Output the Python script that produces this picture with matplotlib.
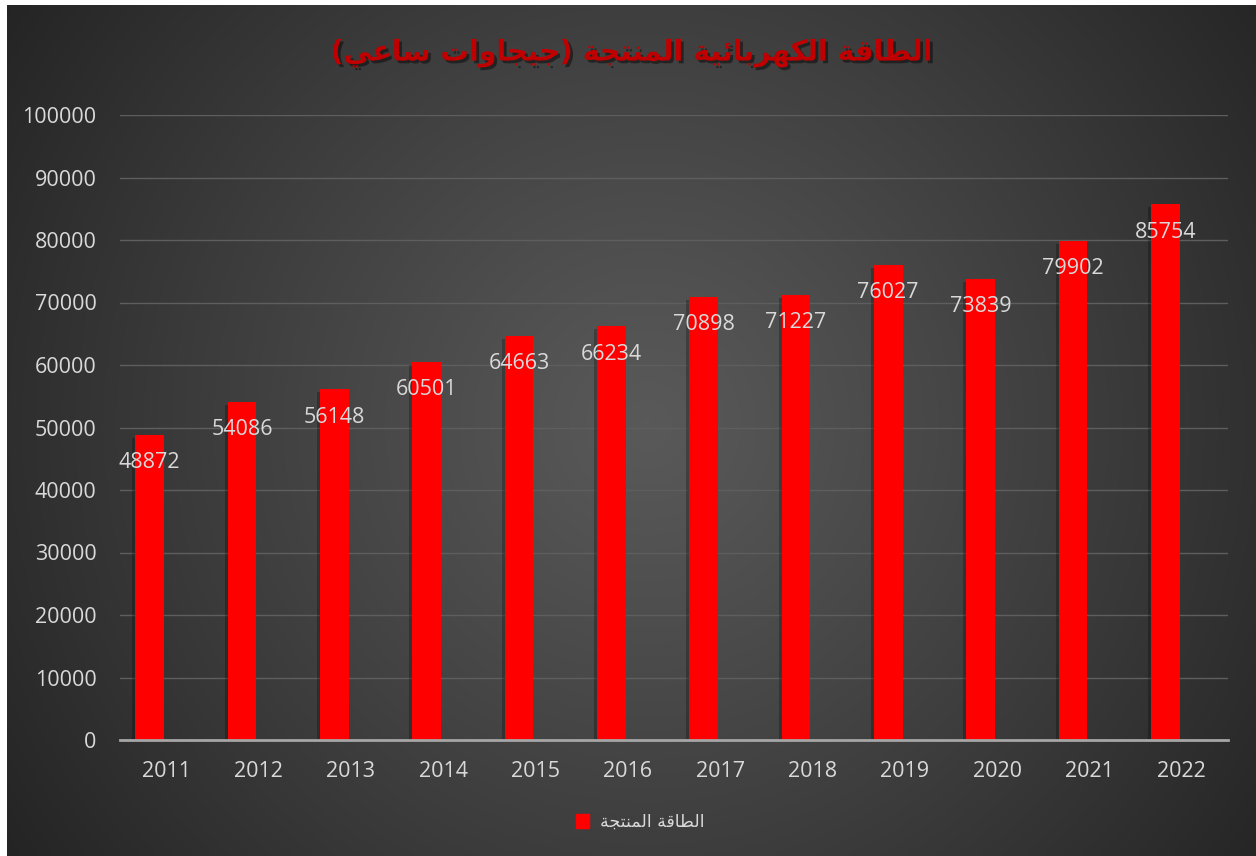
#!/usr/bin/env python3
"""
Electricity produced per year (GWh), red columns on a dark radial background
"""

import numpy as np
import matplotlib
matplotlib.use('Agg')
import matplotlib.pyplot as plt
import matplotlib.patches as mpatches
import matplotlib.patheffects as pe
import matplotlib.transforms as mtransforms

years = ['2011', '2012', '2013', '2014', '2015', '2016',
         '2017', '2018', '2019', '2020', '2021', '2022']
energy = [48872, 54086, 56148, 60501, 64663, 66234,
          70898, 71227, 76027, 73839, 79902, 85754]
y_ticks = [0, 10000, 20000, 30000, 40000, 50000,
           60000, 70000, 80000, 90000, 100000]

title_text = 'الطاقة الكهربائية المنتجة (جيجاوات ساعي)'
series_name = 'الطاقة المنتجة'

# contextual forms: (isolated, final, initial, medial); None -> joins on the right only
ARABIC_FORMS = {
    'ا': ('\uFE8D', '\uFE8E', None, None),
    'ب': ('\uFE8F', '\uFE90', '\uFE91', '\uFE92'),
    'ة': ('\uFE93', '\uFE94', None, None),
    'ت': ('\uFE95', '\uFE96', '\uFE97', '\uFE98'),
    'ج': ('\uFE9D', '\uFE9E', '\uFE9F', '\uFEA0'),
    'ر': ('\uFEAD', '\uFEAE', None, None),
    'س': ('\uFEB1', '\uFEB2', '\uFEB3', '\uFEB4'),
    'ط': ('\uFEC1', '\uFEC2', '\uFEC3', '\uFEC4'),
    'ع': ('\uFEC9', '\uFECA', '\uFECB', '\uFECC'),
    'ق': ('\uFED5', '\uFED6', '\uFED7', '\uFED8'),
    'ك': ('\uFED9', '\uFEDA', '\uFEDB', '\uFEDC'),
    'ل': ('\uFEDD', '\uFEDE', '\uFEDF', '\uFEE0'),
    'م': ('\uFEE1', '\uFEE2', '\uFEE3', '\uFEE4'),
    'ن': ('\uFEE5', '\uFEE6', '\uFEE7', '\uFEE8'),
    'ه': ('\uFEE9', '\uFEEA', '\uFEEB', '\uFEEC'),
    'و': ('\uFEED', '\uFEEE', None, None),
    'ي': ('\uFEF1', '\uFEF2', '\uFEF3', '\uFEF4'),
    'ئ': ('\uFE89', '\uFE8A', '\uFE8B', '\uFE8C'),
}
MIRROR = {'(': ')', ')': '('}


def shape_arabic(text):
    """Pick joined letter forms and return the string in visual order"""
    shaped = []
    n = len(text)
    for i, ch in enumerate(text):
        forms = ARABIC_FORMS.get(ch)
        if forms is None:
            shaped.append(MIRROR.get(ch, ch))
            continue
        prev = text[i - 1] if i > 0 else None
        nxt = text[i + 1] if i < n - 1 else None
        join_prev = prev in ARABIC_FORMS and ARABIC_FORMS[prev][2] is not None
        join_next = forms[2] is not None and nxt in ARABIC_FORMS
        if join_prev and join_next:
            shaped.append(forms[3])
        elif join_prev:
            shaped.append(forms[1])
        elif join_next:
            shaped.append(forms[2])
        else:
            shaped.append(forms[0])
    return ''.join(reversed(shaped))


W, H, DPI = 1256, 856, 100
fig = plt.figure(figsize=(W / DPI, H / DPI), dpi=DPI, facecolor='white')

# dark radial gradient panel
bg_ax = fig.add_axes([7 / W, 0, 1 - 7 / W, 1 - 5 / H])
bg_ax.set_axis_off()
gx, gy = np.meshgrid(np.linspace(0, 1249, 400), np.linspace(0, 851, 300))
r = np.hypot(gx - 640, gy - 420) / 760.0
shade = 0.35 - (0.35 - 0.145) * np.clip(r, 0, 1) ** 1.1
bg_ax.imshow(np.dstack([shade] * 3), aspect='auto', extent=[0, 1, 0, 1],
             interpolation='bicubic')

ax = fig.add_axes([120 / W, 1 - 740 / H, 1108 / W, 625 / H])
ax.set_facecolor('none')

x = np.arange(len(years))
offset = -0.18
bar_w = 0.31

# soft drop shadow behind the columns
shadow_tf = mtransforms.offset_copy(ax.transData, fig=fig, x=-3, y=-3, units='dots')
ax.bar(x + offset, energy, width=bar_w, color='black', alpha=0.25,
       transform=shadow_tf, zorder=2)
ax.bar(x + offset, energy, width=bar_w, color='#ff0000', zorder=3)

for xi, val in zip(x, energy):
    ax.annotate(str(val), xy=(xi + offset, val), xytext=(0, -28),
                textcoords='offset pixels', ha='center', va='center',
                fontsize=15.5, color='#d9d9d9', family=['Open Sans', 'DejaVu Sans'],
                zorder=4)

ax.set_xlim(-0.5, len(years) - 0.5)
ax.set_ylim(0, 100000)
ax.set_xticks(x)
ax.set_xticklabels(years)
ax.set_yticks(y_ticks)
ax.set_yticklabels([str(t) for t in y_ticks])
for lbl in ax.get_xticklabels() + ax.get_yticklabels():
    lbl.set_family(['Open Sans', 'DejaVu Sans'])
    lbl.set_fontsize(15.5)
    lbl.set_color('#d9d9d9')
ax.tick_params(axis='both', length=0)
ax.tick_params(axis='x', pad=15)
ax.tick_params(axis='y', pad=17)

ax.grid(axis='y', color='#5e5e5e', linewidth=1.0, zorder=0)
ax.set_axisbelow(True)
for side in ['top', 'right', 'left']:
    ax.spines[side].set_visible(False)
ax.spines['bottom'].set_color('#a6a6a6')
ax.spines['bottom'].set_linewidth(2)
ax.spines['bottom'].set_zorder(5)

fig.text(632 / W, 1 - 53 / H, shape_arabic(title_text), ha='center', va='center',
         fontsize=20.5, fontweight='bold', color='#c00000', family='DejaVu Sans',
         path_effects=[pe.SimplePatchShadow(offset=(2, -2), shadow_rgbFace='black',
                                            alpha=0.45), pe.Normal()])

handle = mpatches.Patch(color='#ff0000', label=shape_arabic(series_name))
leg = fig.legend(handles=[handle], loc='center', bbox_to_anchor=(640 / W, 1 - 822 / H),
                 frameon=False, handlelength=0.8, handleheight=0.8, handletextpad=0.6,
                 prop={'family': 'DejaVu Sans', 'size': 12.5})
for t in leg.get_texts():
    t.set_color('#d9d9d9')

fig.savefig('out.png', dpi=DPI, facecolor='white')
